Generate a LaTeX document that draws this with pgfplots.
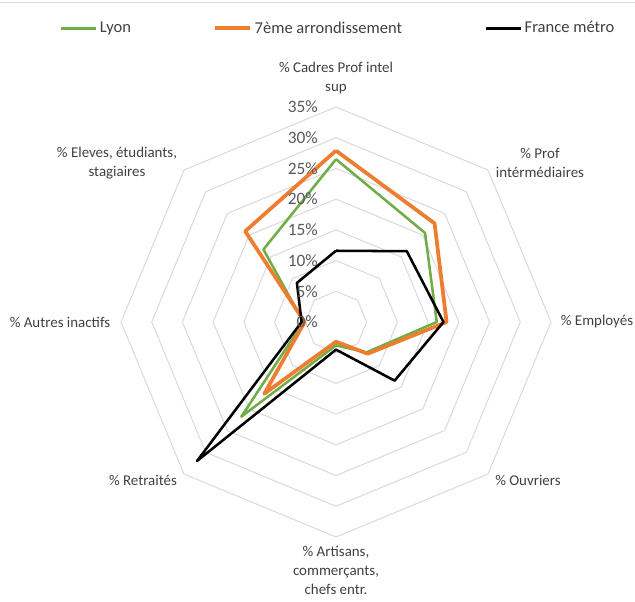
\documentclass[border=0pt]{standalone}
\usepackage{pgfplots}
\pgfplotsset{compat=1.18}
\usepgfplotslibrary{polar}
\usepackage{fontspec}
\setmainfont{Carlito}
\definecolor{lyon}{HTML}{70AD47}
\definecolor{arr}{HTML}{ED7D31}
\definecolor{gridc}{HTML}{D9D9D9}
\definecolor{txt}{HTML}{404040}
\definecolor{tickc}{HTML}{595959}
\begin{document}
\begin{tikzpicture}[x=0.75pt,y=0.75pt]
\useasboundingbox (-336,-279) rectangle (299,322);
\draw[gridc, line width=0.75pt] (-336,320) -- (299,320);
\begin{polaraxis}[
  at={(0,0)}, anchor=center,
  scale only axis, width=322.5pt, height=322.5pt,
  ymin=0, ymax=35,
  hide axis,
  clip=false,
  legend columns=3,
  legend style={at={(0.506,1.183)}, anchor=center, draw=none, fill=none,
    font=\fontsize{12.4}{14}\selectfont\color{txt},
    /tikz/every even column/.append style={column sep=60pt}},
  legend image code/.code={\draw[#1] (0pt,0pt) -- (26pt,0pt);},
]
\addplot[gridc, line width=0.75pt, forget plot] coordinates {(0,5)(45,5)(90,5)(135,5)(180,5)(225,5)(270,5)(315,5)(360,5)};
\addplot[gridc, line width=0.75pt, forget plot] coordinates {(0,10)(45,10)(90,10)(135,10)(180,10)(225,10)(270,10)(315,10)(360,10)};
\addplot[gridc, line width=0.75pt, forget plot] coordinates {(0,15)(45,15)(90,15)(135,15)(180,15)(225,15)(270,15)(315,15)(360,15)};
\addplot[gridc, line width=0.75pt, forget plot] coordinates {(0,20)(45,20)(90,20)(135,20)(180,20)(225,20)(270,20)(315,20)(360,20)};
\addplot[gridc, line width=0.75pt, forget plot] coordinates {(0,25)(45,25)(90,25)(135,25)(180,25)(225,25)(270,25)(315,25)(360,25)};
\addplot[gridc, line width=0.75pt, forget plot] coordinates {(0,30)(45,30)(90,30)(135,30)(180,30)(225,30)(270,30)(315,30)(360,30)};
\addplot[gridc, line width=0.75pt, forget plot] coordinates {(0,35)(45,35)(90,35)(135,35)(180,35)(225,35)(270,35)(315,35)(360,35)};
% Lyon
\addplot[lyon, line width=1.9pt, line join=round, no marks] coordinates {
(90,26.5) (45,20.5) (0,16.4) (-45,7.0) (-90,3.8) (-135,21.8) (-180,5.3) (-225,16.7) (-270,26.5)};
\addlegendentry{Lyon}
% 7eme
\addplot[arr, line width=2.8pt, line join=round, no marks] coordinates {
(90,27.9) (45,22.7) (0,18.0) (-45,7.3) (-90,3.2) (-135,16.5) (-180,5.1) (-225,20.9) (-270,27.9)};
\addlegendentry{7ème arrondissement}
% France
\addplot[black, line width=1.9pt, line join=round, no marks] coordinates {
(90,11.6) (45,16.3) (0,17.5) (-45,13.5) (-90,4.5) (-135,32.0) (-180,5.6) (-225,9.0) (-270,11.6)};
\addlegendentry{France métro}
\end{polaraxis}
\foreach \k in {0,5,...,35} {
  \node[anchor=east, text=tickc, font=\fontsize{13}{15}\selectfont, inner sep=0pt] at (-18, 6.143*\k) {\k\%};
}
\begin{scope}[every node/.style={align=center, text=txt, font=\fontsize{11.2}{14.2}\selectfont, inner sep=0pt}]
\node at (0,244) {\% Cadres Prof intel\\sup};
\node at (204,159) {\% Prof\\intérmédiaires};
\node at (261,0) {\% Employés};
\node at (192,-158) {\% Ouvriers};
\node at (0,-248) {\% Artisans,\\commerçants,\\chefs entr.};
\node at (-193,-158) {\% Retraités};
\node at (-276,0) {\% Autres inactifs};
\node at (-219,159) {\% Eleves, étudiants,\\stagiaires};
\end{scope}
\end{tikzpicture}
\end{document}
